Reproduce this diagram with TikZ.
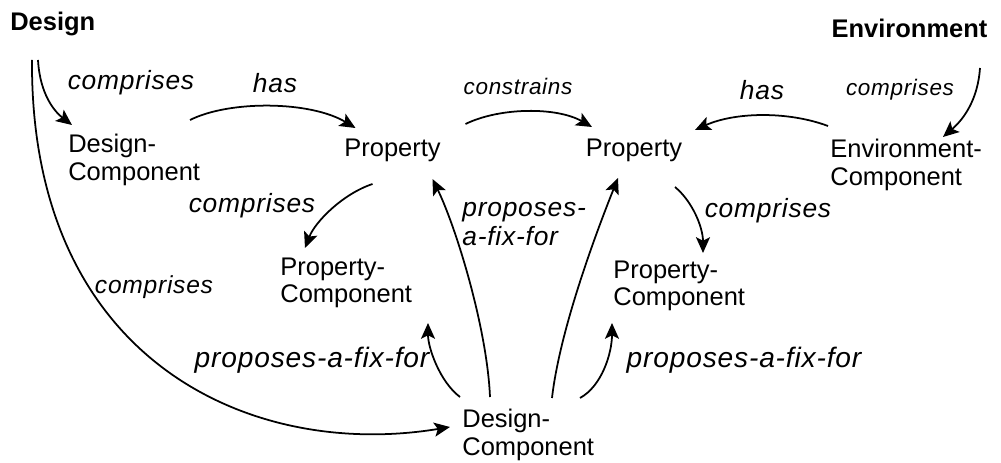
\documentclass[tikz,border=0pt]{standalone}
\usepackage{fontspec}
\setmainfont{Liberation Sans}
\newfontfamily\relfont{Liberation Sans}[LetterSpace=3]
\usetikzlibrary{arrows.meta}

\tikzset{
  concept/.style={inner sep=0pt, align=left, font=\fontsize{14.5}{15.5}\selectfont},
  topconcept/.style={concept, font=\fontsize{14.5}{15.5}\selectfont\bfseries},
  rel/.style={inner sep=0pt, align=left, font=\relfont\fontsize{15}{16.5}\selectfont\itshape},
  relsmall/.style={rel, font=\relfont\fontsize{12.8}{14}\selectfont\itshape},
  relbig/.style={rel, font=\relfont\fontsize{16}{17}\selectfont\itshape},
  link/.style={line width=1pt, -{Stealth[length=9pt,width=8pt,inset=2pt]}},
}

\begin{document}
\begin{tikzpicture}

\useasboundingbox (0,0) rectangle (20.02,9.26);

\node[topconcept, anchor=west] (design) at (0.20,8.79) {Design};
\node[topconcept] (env) at (18.19,8.70) {Environment};

\node[concept, anchor=west] (dcompA) at (1.36,6.06) {Design-\\Component};
\node[concept] (propA) at (7.85,6.26) {Property};
\node[concept] (propB) at (12.68,6.26) {Property};
\node[concept, anchor=west] (envcomp) at (16.60,5.96) {Environment-\\Component};

\node[concept, anchor=west] (pcompA) at (5.60,3.60) {Property-\\Component};
\node[concept, anchor=west] (pcompB) at (12.26,3.54) {Property-\\Component};
\node[concept, anchor=west] (dcompB) at (9.24,0.56) {Design-\\Component};

\node[rel] (compA) at (2.62,7.60) {comprises};
\node[rel] (hasA) at (5.50,7.60) {has};
\node[relsmall] (constr) at (10.36,7.54) {constrains};
\node[rel] (hasB) at (15.24,7.46) {has};
\node[relsmall] (compE) at (18.00,7.46) {comprises};
\node[rel] (compB) at (5.04,5.14) {comprises};
\node[rel, anchor=west] (fixA) at (9.24,4.78) {proposes-\\a-fix-for};
\node[rel] (compC) at (15.36,5.04) {comprises};
\node[rel, font=\relfont\fontsize{14}{15}\selectfont\itshape] (compD) at (3.08,3.52) {comprises};
\node[relbig] (fixB) at (6.24,2.06) {proposes-a-fix-for};
\node[relbig] (fixC) at (14.88,2.06) {proposes-a-fix-for};

\draw[link] ([shift={(0.56,-0.73)}]design.west) .. controls +(0.04,-0.70) and +(-0.34,0.26) .. ([shift={(0.08,0.70)}]dcompA.west);
\draw[link] ([shift={(0.44,-0.73)}]design.west) .. controls +(-0.04,-6.00) and +(-4.00,-0.66) .. ([shift={(-0.24,0.16)}]dcompB.west);

\draw[link] ([shift={(2.44,0.80)}]dcompA.west) .. controls +(0.80,0.40) and +(-0.90,0.54) .. ([shift={(-0.74,0.44)}]propA.center);
\draw[link] ([shift={(1.46,0.52)}]propA.center) .. controls +(0.70,0.34) and +(-0.70,0.40) .. ([shift={(-0.84,0.46)}]propB.center);
\draw[link] ([shift={(-0.04,0.78)}]envcomp.west) .. controls +(-0.80,0.30) and +(0.80,0.36) .. ([shift={(1.22,0.40)}]propB.center);
\draw[link] ([shift={(1.41,-0.80)}]env.center) .. controls +(-0.04,-0.60) and +(0.44,0.38) .. ([shift={(2.26,0.56)}]envcomp.west);

\draw[link] ([shift={(-0.40,-0.68)}]propA.center) .. controls +(-0.60,-0.20) and +(0.20,0.52) .. ([shift={(0.50,0.70)}]pcompA.west);
\draw[link] ([shift={(0.82,-0.74)}]propB.center) .. controls +(0.36,-0.30) and +(0,0.50) .. ([shift={(1.80,0.66)}]pcompB.west);

\draw[link] ([shift={(0.56,0.76)}]dcompB.west) .. controls +(-0.06,1.40) and +(0.46,-0.94) .. ([shift={(0.80,-0.58)}]propA.center);
\draw[link] ([shift={(1.80,0.74)}]dcompB.west) .. controls +(0.16,1.40) and +(-0.40,-1.00) .. ([shift={(-0.32,-0.56)}]propB.center);
\draw[link] ([shift={(-0.04,0.76)}]dcompB.west) .. controls +(-0.40,0.30) and +(0,-0.50) .. ([shift={(2.96,-0.80)}]pcompA.west);
\draw[link] ([shift={(2.36,0.74)}]dcompB.west) .. controls +(0.44,0.24) and +(0,-0.60) .. ([shift={(-0.02,-0.74)}]pcompB.west);

\end{tikzpicture}
\end{document}
